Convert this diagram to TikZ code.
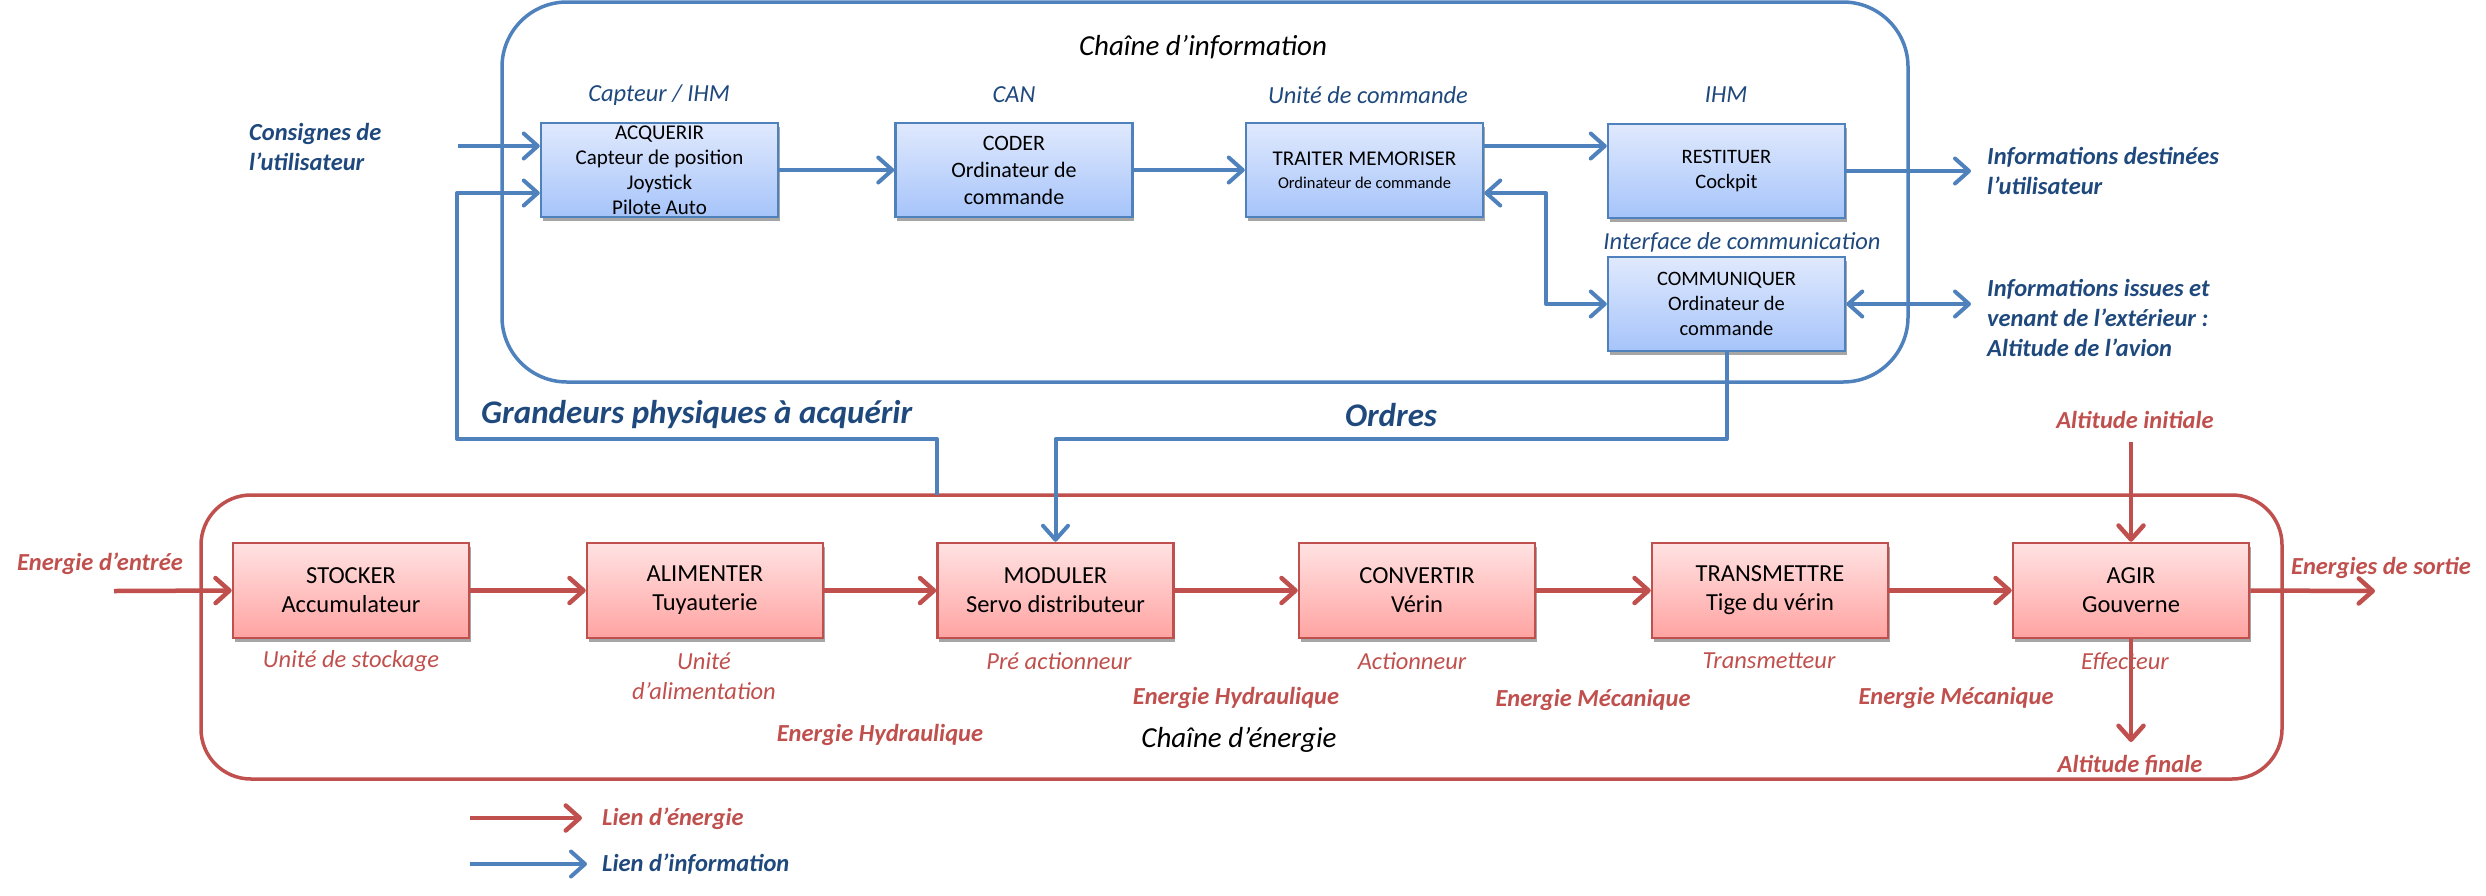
\documentclass[tikz,border=0pt]{standalone}
\usepackage{fontspec}
\setmainfont{Carlito}
\usetikzlibrary{arrows.meta,shadows,calc}
\definecolor{infoblue}{HTML}{4F81BD}
\definecolor{dkblue}{HTML}{1F497D}
\definecolor{enred}{HTML}{C0504D}
\definecolor{btop}{HTML}{E0E9FD}
\definecolor{bbot}{HTML}{A6C4FA}
\definecolor{rtop}{HTML}{FFE2E2}
\definecolor{rbot}{HTML}{FFA4A2}
\begin{document}
\begin{tikzpicture}[x=1pt,y=-1pt,
  iarrow/.style={draw=infoblue,line width=4pt,line join=round,-{Straight Barb[length=14pt,width=25pt,round]}},
  iarrowb/.style={draw=infoblue,line width=4pt,line join=round,{Straight Barb[length=14pt,width=25pt,round]}-{Straight Barb[length=14pt,width=25pt,round]}},
  earrow/.style={draw=enred,line width=4.5pt,line join=round,-{Straight Barb[length=14pt,width=25pt,round]}},
  ibox/.style={draw=infoblue,line width=2.5pt,top color=btop,bottom color=bbot,
    minimum width=237pt,minimum height=94pt,align=center,inner sep=0pt,text=black,
    drop shadow={shadow xshift=1.5pt,shadow yshift=-3.5pt,opacity=0.35,fill=black}},
  rbox/.style={draw=enred,line width=2.5pt,top color=rtop,bottom color=rbot,
    minimum width=236pt,minimum height=95pt,align=center,inner sep=0pt,text=black,
    font=\fontsize{24.5}{29}\selectfont,
    drop shadow={shadow xshift=1.5pt,shadow yshift=-3.5pt,opacity=0.35,fill=black}},
  blab/.style={font=\fontsize{24.5}{30}\selectfont\itshape,text=dkblue,inner sep=0pt},
  rlab/.style={font=\fontsize{24.5}{30}\selectfont\itshape,text=enred,inner sep=0pt,align=center},
  bbold/.style={font=\fontsize{24.5}{30}\selectfont\bfseries\itshape,text=dkblue,inner sep=0pt,align=left},
  rbold/.style={font=\fontsize{24.5}{30}\selectfont\bfseries\itshape,text=enred,inner sep=0pt},
  title/.style={font=\fontsize{29}{34}\selectfont\itshape,text=black,inner sep=0pt},
  big/.style={font=\fontsize{33}{38}\selectfont\bfseries\itshape,text=dkblue,inner sep=0pt}
]
\useasboundingbox (0,0) rectangle (2486,895);

% containers
\node[draw=infoblue,line width=3.5pt,rounded corners=65pt,minimum width=1406pt,minimum height=380pt,inner sep=0pt] (infochain) at (1205,192) {};
\node[draw=enred,line width=3.5pt,rounded corners=50pt,minimum width=2081pt,minimum height=284pt,inner sep=0pt] (enchain) at (1241.5,637) {};

% titles
\node[title] (tinfo) at (1203,47) {Chaîne d’information};
\node[title] (tener) at (1239,740) {Chaîne d’énergie};

% blue labels
\node[blab] (lcap) at (659,95) {Capteur / IHM};
\node[blab] (lcan) at (1014,95) {CAN};
\node[blab] (luc) at (1368,95) {Unité de commande};
\node[blab] (lihm) at (1726,95) {IHM};
\node[blab] (lint) at (1742,242) {Interface de communication};

\node[bbold,anchor=west] (cons) at (249,147) {Consignes de\\l’utilisateur};
\node[bbold,anchor=west] (idest) at (1987,171) {Informations destinées\\l’utilisateur};
\node[bbold,anchor=west] (iext) at (1987,318) {Informations issues et\\venant de l’extérieur :\\Altitude de l’avion};
\node[big,anchor=west] (grand) at (481,415) {Grandeurs physiques à acquérir};
\node[big] (ordres) at (1391,415) {Ordres};

% red labels
\node[rlab] (lsto) at (351,661) {Unité de stockage};
\node[rlab] (lali) at (704,676) {Unité\\d’alimentation};
\node[rlab] (lmod) at (1059,661) {Pré actionneur};
\node[rlab] (lcon) at (1412,661) {Actionneur};
\node[rlab] (ltrn) at (1769,661) {Transmetteur};
\node[rlab] (lagi) at (2125,661) {Effecteur};

\node[rbold] (eh1) at (880,735) {Energie Hydraulique};
\node[rbold] (eh2) at (1236,698) {Energie Hydraulique};
\node[rbold] (em1) at (1593,700) {Energie Mécanique};
\node[rbold] (em2) at (1956,698) {Energie Mécanique};
\node[rbold] (ein-t) at (100,564) {Energie d’entrée};
\node[rbold] (eout-t) at (2381,568) {Energies de sortie};
\node[rbold] (aini-t) at (2135,420) {Altitude initiale};
\node[rbold] (afin-t) at (2130,765) {Altitude finale};

% blue boxes
\node[ibox,font=\fontsize{21}{25}\selectfont] (acq) at (659.5,170) {ACQUERIR\\Capteur de position\\Joystick\\Pilote Auto};
\node[ibox,font=\fontsize{22}{27}\selectfont] (cod) at (1014,170) {CODER\\Ordinateur de\\commande};
\node[ibox,font=\fontsize{21}{23}\selectfont] (tra) at (1364.5,170) {TRAITER MEMORISER\\{\fontsize{16.5}{20}\selectfont Ordinateur de commande}};
\node[ibox,font=\fontsize{20.5}{25}\selectfont] (res) at (1726.5,171) {RESTITUER\\Cockpit};
\node[ibox,font=\fontsize{20.5}{25}\selectfont] (com) at (1726.5,304) {COMMUNIQUER\\Ordinateur de\\commande};

% red boxes
\node[rbox] (sto) at (351,590.5) {STOCKER\\Accumulateur};
\node[rbox] (ali) at (705,590.5) {ALIMENTER\\Tuyauterie};
\node[rbox] (mod) at (1055.5,590.5) {MODULER\\Servo distributeur};
\node[rbox] (con) at (1417,590.5) {CONVERTIR\\Vérin};
\node[rbox] (trn) at (1770,590.5) {TRANSMETTRE\\Tige du vérin};
\node[rbox] (agi) at (2131,590.5) {AGIR\\Gouverne};

% coordinates
\coordinate (cin) at (458,146);
\coordinate (fb) at (937,495);
\coordinate (fbc1) at (937,439);
\coordinate (fbc2) at (457,439);
\coordinate (fbin) at (457,193);
\coordinate (tc) at (1546,193);
\coordinate (resout) at (1971,171);
\coordinate (comout) at (1971,304);
\coordinate (ordc) at (1726.5,439);
\coordinate (ein) at (114,591);
\coordinate (eout) at (2375,591);
\coordinate (aini) at (2131,442);
\coordinate (afin) at (2131,742);
\coordinate (l1a) at (470,818);
\coordinate (l1b) at (582,818);
\coordinate (l2a) at (470,864);
\coordinate (l2b) at (587,864);

% information links
\draw[iarrow] (cin) -- (cin -| acq.west);
\draw[iarrow] (fb) -- (fbc1) -- (fbc2) -- (fbin) -- (fbin -| acq.west);
\draw[iarrow] (acq.east) -- (cod.west);
\draw[iarrow] (cod.east) -- (tra.west);
\draw[iarrow] (tra.east |- cin) -- (res.west |- cin);
\draw[iarrowb] (tc -| tra.east) -- (tc) |- (com.west);
\draw[iarrow] (res.east) -- (resout);
\draw[iarrowb] (com.east) -- (comout);
\draw[iarrow] (com.south) -- (ordc) -| (mod.north);

% energy links
\draw[earrow] (ein) -- (sto.west);
\draw[earrow] (sto.east) -- (ali.west);
\draw[earrow] (ali.east) -- (mod.west);
\draw[earrow] (mod.east) -- (con.west);
\draw[earrow] (con.east) -- (trn.west);
\draw[earrow] (trn.east) -- (agi.west);
\draw[earrow] (agi.east) -- (eout);
\draw[earrow] (aini) -- (agi.north);
\draw[earrow] (agi.south) -- (afin);

% legend
\draw[earrow] (l1a) -- (l1b);
\node[rbold,anchor=west] (leg1) at (602,819) {Lien d’énergie};
\draw[iarrow] (l2a) -- (l2b);
\node[bbold,anchor=west] (leg2) at (602,864) {Lien d’information};
\end{tikzpicture}
\end{document}
